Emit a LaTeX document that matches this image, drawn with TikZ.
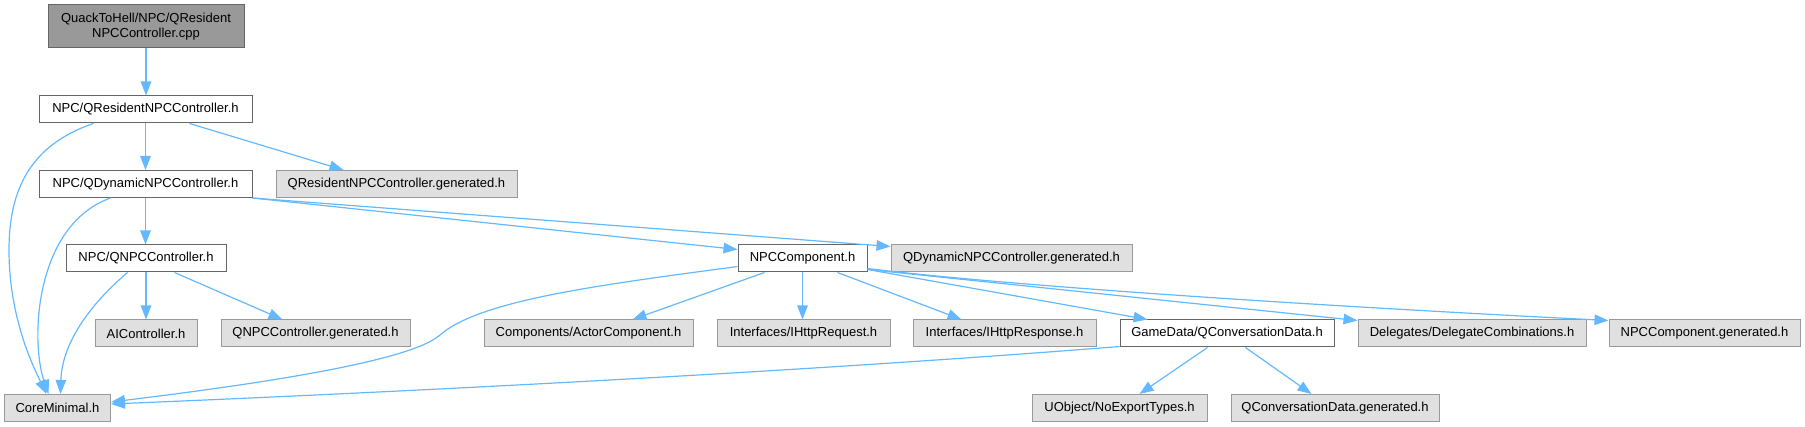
\documentclass[tikz,border=0pt]{standalone}
\usepackage{fontspec}
\setmainfont{Liberation Sans}
\usetikzlibrary{arrows.meta}
\definecolor{edgeblue}{HTML}{63B8FF}
\definecolor{darkborder}{HTML}{666666}
\definecolor{lightborder}{HTML}{999999}
\definecolor{grayfill}{HTML}{E0E0E0}
\definecolor{rootfill}{HTML}{999999}
\begin{document}
\begin{tikzpicture}[x=1pt,y=-1pt,
  box/.style={draw, line width=1pt, inner sep=0pt, minimum height=27pt, font=\fontsize{13}{15.7}\selectfont, align=center},
  wbox/.style={box, fill=white, draw=darkborder},
  gbox/.style={box, fill=grayfill, draw=lightborder},
  rbox/.style={box, fill=rootfill, draw=darkborder},
  edge/.style={draw=edgeblue, line width=1.2pt, -{Triangle[length=14pt,width=10.5pt]}}]
\useasboundingbox (0,0) rectangle (1805,427);
% nodes
\node[rbox, minimum width=196, minimum height=43] (cpp) at (146,26.5) {QuackToHell/NPC/QResident\\NPCController.cpp};
\node[wbox, minimum width=213] (resh) at (145.5,109.5) {NPC/QResidentNPCController.h};
\node[wbox, minimum width=213] (dynh) at (145.5,184) {NPC/QDynamicNPCController.h};
\node[gbox, minimum width=241] (resgen) at (396.5,184) {QResidentNPCController.generated.h};
\node[wbox, minimum width=160] (qnpch) at (146,258.5) {NPC/QNPCController.h};
\node[wbox, minimum width=129] (npcc) at (802.5,258.5) {NPCComponent.h};
\node[gbox, minimum width=241] (dyngen) at (1011.5,258.5) {QDynamicNPCController.generated.h};
\node[gbox, minimum width=102] (aic) at (146,333.5) {AIController.h};
\node[gbox, minimum width=189] (qnpcgen) at (315.5,333.5) {QNPCController.generated.h};
\node[gbox, minimum width=209] (actc) at (588.5,333.5) {Components/ActorComponent.h};
\node[gbox, minimum width=173] (httpreq) at (803.5,333.5) {Interfaces/IHttpRequest.h};
\node[gbox, minimum width=183] (httpres) at (1004.5,333.5) {Interfaces/IHttpResponse.h};
\node[wbox, minimum width=214] (gamedata) at (1227,333.5) {GameData/QConversationData.h};
\node[gbox, minimum width=228] (deleg) at (1472,333.5) {Delegates/DelegateCombinations.h};
\node[gbox, minimum width=191] (npcgen) at (1704.5,333.5) {NPCComponent.generated.h};
\node[gbox, minimum width=106] (core) at (57.5,408) {CoreMinimal.h};
\node[gbox, minimum width=175] (noexp) at (1119.5,408) {UObject/NoExportTypes.h};
\node[gbox, minimum width=208] (convgen) at (1335,408) {QConversationData.generated.h};
% edges
\draw[edge] (cpp.south) -- (cpp.south |- resh.north);
\draw[edge] (resh.south) -- (resh.south |- dynh.north);
\draw[edge] ([xshift=151]resh.south west) -- ([xshift=68]resgen.north west);
\draw[edge] ([xshift=55]resh.south west) .. controls (30,145) and (9,190) .. (9,250) .. controls (9,320) and (35,370) .. ([xshift=-11]core.north);
\draw[edge] (dynh.south) -- (dynh.south |- qnpch.north);
\draw[edge] ([xshift=72]dynh.south west) .. controls (35,225) and (30,340) .. ([xshift=-9]core.north);
\draw[edge] (dynh.south east) -- ([yshift=-5]npcc.north west);
\draw[edge] (dynh.south east) -- ([yshift=-2]dyngen.north west);
\draw[edge] (qnpch.south) -- (qnpch.south |- aic.north);
\draw[edge] ([xshift=109]qnpch.south west) -- ([xshift=62]qnpcgen.north west);
\draw[edge] ([xshift=62]qnpch.south west) .. controls (95,300) and (62,340) .. ([xshift=3]core.north);
\draw[edge] ([yshift=6]npcc.south west) .. controls (600,285) and (480,300) .. (440,335) .. controls (410,362) and (250,385) .. ([yshift=6]core.east);
\draw[edge] ([yshift=1]gamedata.south west) .. controls (800,372) and (400,392) .. ([yshift=4]core.east);
\draw[edge] ([xshift=27]npcc.south west) -- ([xshift=149]actc.north west);
\draw[edge] (npcc.south) -- (npcc.south |- httpreq.north);
\draw[edge] ([xshift=100]npcc.south west) -- ([xshift=49]httpres.north west);
\draw[edge] ([yshift=3]npcc.south east) -- ([xshift=28]gamedata.north west);
\draw[edge] ([yshift=3]npcc.south east) -- ([yshift=-1]deleg.north west);
\draw[edge] ([yshift=4]npcc.south east) .. controls (1000,285) and (1300,305) .. ([yshift=-1]npcgen.north west);
\draw[edge] ([xshift=88]gamedata.south west) -- ([xshift=108]noexp.north west);
\draw[edge] ([xshift=126]gamedata.south west) -- ([xshift=81]convgen.north west);
\end{tikzpicture}
\end{document}
